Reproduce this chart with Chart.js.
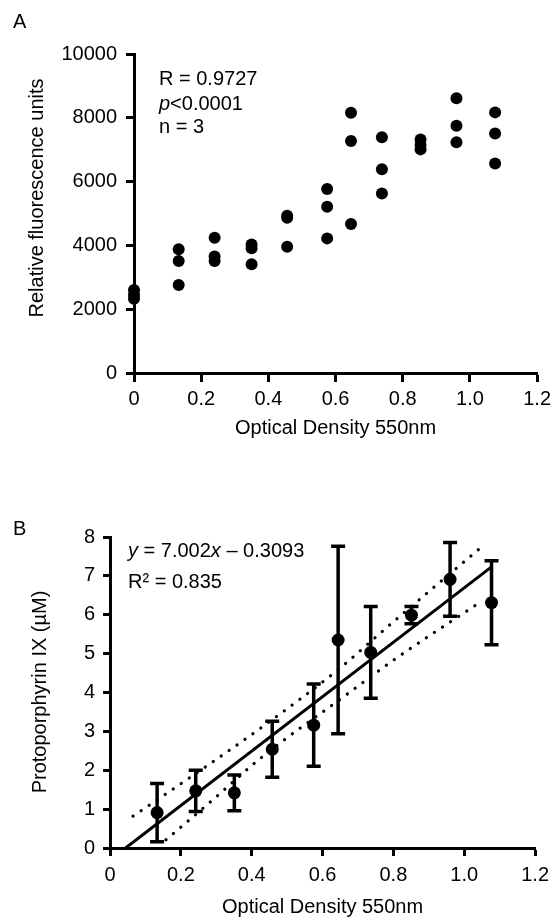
<!DOCTYPE html>
<html>
<head>
<meta charset="utf-8">
<script src="https://cdn.jsdelivr.net/npm/chart.js@4.4.1/dist/chart.umd.min.js"></script>
<style>
  body { margin: 0; background: #fff; }
  #wrap { position: relative; width: 556px; height: 917px; }
  canvas { position: absolute; left: 0; }
  #chartA { top: 0; }
  #chartB { top: 440px; }
</style>
</head>
<body>
<div id="wrap">
  <canvas id="chartA" width="556" height="440"></canvas>
  <canvas id="chartB" width="556" height="477"></canvas>
</div>
<script>
// panel A: fluorescence vs optical density, 3 replicates per OD
const odA = [0, 0.133, 0.24, 0.35, 0.456, 0.575, 0.646, 0.738, 0.853, 0.96, 1.075];
const rfuHigh = [2600, 3880, 4240, 4030, 4930, 5770, 8160, 7390, 7320, 8610, 8170];
const rfuMid = [2450, 3510, 3650, 3910, 4870, 5210, 7270, 6390, 7150, 7750, 7510];
const rfuLow = [2330, 2760, 3510, 3410, 3960, 4220, 4670, 5630, 7010, 7230, 6570];

// panel B: protoporphyrin IX mean +/- sd
const odB = [0.133, 0.242, 0.351, 0.458, 0.575, 0.644, 0.736, 0.851, 0.96, 1.077];
const ppixMean = [0.91, 1.47, 1.42, 2.54, 3.16, 5.35, 5.03, 5.99, 6.91, 6.31];
const ppixSd = [0.75, 0.53, 0.46, 0.72, 1.06, 2.41, 1.18, 0.22, 0.95, 1.08];

// fit line and 95% bands
const fitX = [0.044, 1.077];
const fitY = [0, 7.23];
const upperX = [0.065, 0.153, 0.42, 0.64, 0.80, 1.055];
const upperY = [0.82, 1.36, 3.05, 4.56, 5.82, 7.79];
const lowerX = [0.158, 0.284, 0.425, 0.67, 0.80, 1.051];
const lowerY = [0.21, 1.19, 2.31, 3.96, 4.83, 6.36];

const xTicks = [0, 0.2, 0.4, 0.6, 0.8, 1.0, 1.2];
const xTickLabels = ['0', '0.2', '0.4', '0.6', '0.8', '1.0', '1.2'];
const yTicksA = [0, 2000, 4000, 6000, 8000, 10000];
const yTickLabelsA = ['0', '2000', '4000', '6000', '8000', '10000'];
const yTicksB = [0, 1, 2, 3, 4, 5, 6, 7, 8];
const yTickLabelsB = ['0', '1', '2', '3', '4', '5', '6', '7', '8'];

const family = "'Liberation Sans', Arial, Helvetica, sans-serif";
Chart.defaults.font.family = family;
Chart.defaults.font.size = 20;
Chart.defaults.color = '#000';

const toPts = (xs, ys) => xs.map((x, i) => ({x: x, y: ys[i]}));

function axis(min, max, values, labels, size, tickLen, pad, isX, titlePad) {
	return {
		type: 'linear',
		min: min,
		max: max,
		afterBuildTicks: (s) => { s.ticks = values.map(v => ({value: v})); },
		afterFit: (s) => { if (isX) s.height = size; else s.width = size; },
		ticks: {
			padding: pad,
			autoSkip: false,
			maxRotation: 0,
			font: {size: 20},
			callback: (v, i) => labels[i]
		},
		border: {display: true, width: 3, color: '#000'},
		grid: {display: true, drawOnChartArea: false, drawTicks: true, tickLength: tickLen, tickWidth: 3, tickColor: '#000'},
		title: {display: isX, text: 'Optical Density 550nm', font: {size: 20, lineHeight: 1}, padding: {top: 0, bottom: titlePad || 0}}
	};
}

// letter, y axis title and stats text
const panelText = {
	id: 'panelText',
	afterDraw(chart, args, o) {
		const ctx = chart.ctx, area = chart.chartArea;
		ctx.save();
		ctx.fillStyle = '#000';
		ctx.textBaseline = 'alphabetic';
		ctx.textAlign = 'left';
		ctx.font = '20px ' + family;
		ctx.fillText(o.letter, 13, o.letterY);

		ctx.save();
		ctx.translate(o.titleX, o.titleY);
		ctx.rotate(-Math.PI / 2);
		ctx.textAlign = 'center';
		ctx.textBaseline = 'middle';
		ctx.fillText(o.yTitle, 0, 0);
		ctx.restore();

		o.lines.forEach((parts, i) => {
			let x = area.left + o.dx;
			const y = area.top + o.lineY[i];
			parts.forEach(p => {
				ctx.font = (p[1] ? 'italic ' : '') + '20px ' + family;
				ctx.fillText(p[0], x, y);
				x += ctx.measureText(p[0]).width;
			});
		});
		ctx.restore();
	}
};

const errorBars = {
	id: 'errorBars',
	beforeDatasetsDraw(chart) {
		const {ctx, scales: {x, y}} = chart;
		ctx.save();
		ctx.strokeStyle = '#000';
		ctx.lineWidth = 3.5;
		odB.forEach((od, i) => {
			const px = x.getPixelForValue(od);
			const top = y.getPixelForValue(ppixMean[i] + ppixSd[i]);
			const bot = y.getPixelForValue(ppixMean[i] - ppixSd[i]);
			ctx.beginPath();
			ctx.moveTo(px, top); ctx.lineTo(px, bot);
			ctx.moveTo(px - 7, top); ctx.lineTo(px + 7, top);
			ctx.moveTo(px - 7, bot); ctx.lineTo(px + 7, bot);
			ctx.stroke();
		});
		ctx.restore();
	}
};

const baseOpts = {
	responsive: false,
	animation: false,
	plugins: {legend: {display: false}, tooltip: {enabled: false}}
};

new Chart(document.getElementById('chartA'), {
	type: 'scatter',
	data: {
		datasets: [{
			data: [].concat(toPts(odA, rfuHigh), toPts(odA, rfuMid), toPts(odA, rfuLow)),
			pointRadius: 6,
			pointBackgroundColor: '#000',
			pointBorderWidth: 0,
			clip: false
		}]
	},
	options: Object.assign({}, baseOpts, {
		layout: {padding: {top: 54, right: 17, left: 0, bottom: 0}},
		scales: {
			x: axis(0, 1.2, xTicks, xTickLabels, 67, 9, 5, true, 2),
			y: axis(0, 10000, yTicksA, yTickLabelsA, 134, 8, 9, false)
		},
		plugins: Object.assign({}, baseOpts.plugins, {
			panelText: {
				letter: 'A', letterY: 28,
				yTitle: 'Relative fluorescence units', titleX: 37, titleY: 198,
				dx: 25, lineY: [31, 56, 79],
				lines: [[['R = 0.9727', false]], [['p', true], ['<0.0001', false]], [['n = 3', false]]]
			}
		})
	}),
	plugins: [panelText]
});

new Chart(document.getElementById('chartB'), {
	type: 'scatter',
	data: {
		datasets: [{
			data: toPts(odB, ppixMean),
			pointRadius: 6.5,
			pointBackgroundColor: '#000',
			pointBorderWidth: 0,
			clip: false,
			order: 0
		}, {
			data: toPts(fitX, fitY),
			showLine: true,
			borderColor: '#000',
			borderWidth: 3,
			pointRadius: 0,
			order: 1
		}, {
			data: toPts(upperX, upperY),
			showLine: true,
			borderColor: '#000',
			borderWidth: 3.2,
			borderDash: [0.1, 9.6],
			borderCapStyle: 'round',
			cubicInterpolationMode: 'monotone',
			pointRadius: 0,
			order: 2
		}, {
			data: toPts(lowerX, lowerY),
			showLine: true,
			borderColor: '#000',
			borderWidth: 3.2,
			borderDash: [0.1, 9.6],
			borderCapStyle: 'round',
			cubicInterpolationMode: 'monotone',
			pointRadius: 0,
			order: 3
		}]
	},
	options: Object.assign({}, baseOpts, {
		layout: {padding: {top: 97, right: 16, left: 0, bottom: 0}},
		scales: {
			x: axis(0, 1.2, xTicks, xTickLabels, 69, 8, 7, true, 0),
			y: axis(0, 8, yTicksB, yTickLabelsB, 110, 7, 8, false)
		},
		plugins: Object.assign({}, baseOpts.plugins, {
			panelText: {
				letter: 'B', letterY: 95,
				yTitle: 'Protoporphyrin IX (\u00b5M)', titleX: 40, titleY: 252,
				dx: 18, lineY: [20, 51],
				lines: [[['y', true], [' = 7.002', false], ['x', true], [' \u2013 0.3093', false]], [['R\u00b2 = 0.835', false]]]
			}
		})
	}),
	plugins: [panelText, errorBars]
});
</script>
</body>
</html>
